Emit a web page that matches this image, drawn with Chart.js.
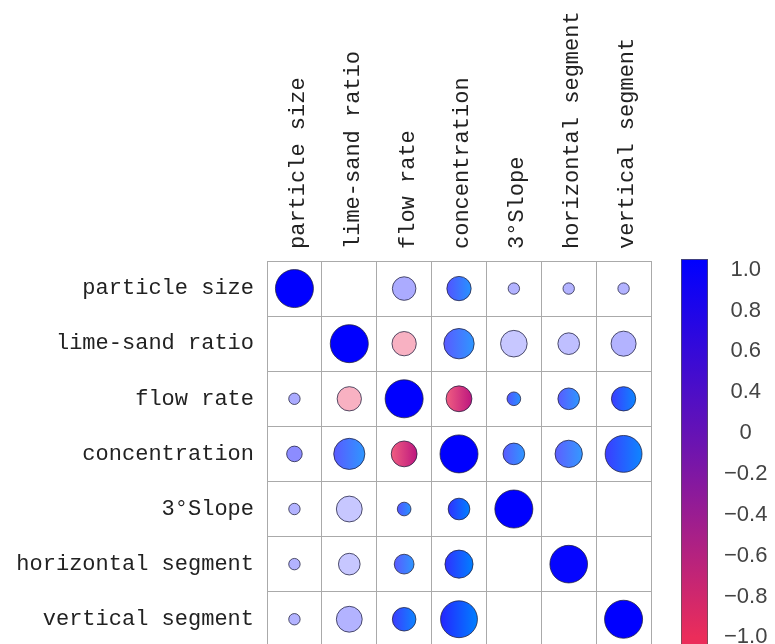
<!DOCTYPE html>
<html>
<head>
<meta charset="utf-8">
<script src="https://cdn.jsdelivr.net/npm/chart.js@4.4.0/dist/chart.umd.min.js"></script>
<style>
  html, body { margin: 0; padding: 0; background: #fff; overflow: hidden; }
  #wrap { position: relative; width: 775px; height: 644px; overflow: hidden; }
  canvas { position: absolute; left: 0; top: 0; }
</style>
</head>
<body>
<div id="wrap">
  <canvas id="myChart" width="775" height="673"></canvas>
  <canvas id="colorBar" width="775" height="687"></canvas>
</div>
<script>
// variable names (rows top->bottom, columns left->right)
const varNames = ["particle size", "lime-sand ratio", "flow rate", "concentration",
  "3\u00b0Slope", "horizontal segment", "vertical segment"];

// signed correlation (null = empty cell)
const corr = [
  [1.00, null, 0.33, 0.75, 0.30, 0.30, 0.30],
  [null, 1.00, -0.37, 0.72, 0.22, 0.25, 0.30],
  [0.33, -0.37, 1.00, -0.85, 0.75, 0.72, 0.85],
  [0.45, 0.72, -0.85, 1.00, 0.72, 0.70, 0.85],
  [0.30, 0.22, 0.75, 0.90, 1.00, null, null],
  [0.30, 0.22, 0.72, 0.90, null, 0.98, null],
  [0.30, 0.30, 0.85, 0.95, null, null, 1.00]
];

// circle size (relative, 1 = diagonal)
const strength = [
  [1.00, null, 0.62, 0.64, 0.30, 0.30, 0.30],
  [null, 1.00, 0.64, 0.80, 0.70, 0.57, 0.66],
  [0.30, 0.64, 1.00, 0.68, 0.36, 0.57, 0.64],
  [0.41, 0.82, 0.68, 1.00, 0.57, 0.72, 0.97],
  [0.30, 0.68, 0.36, 0.57, 1.00, null, null],
  [0.30, 0.57, 0.52, 0.74, null, 0.99, null],
  [0.30, 0.68, 0.62, 0.97, null, null, 1.00]
];

// colour bar labels, top -> bottom
const cbLabels = ["1.0", "0.8", "0.6", "0.4", "0", "\u22120.2", "\u22120.4", "\u22120.6", "\u22120.8", "\u22121.0"];

const points = [];
for (let i = 0; i < varNames.length; i++) {
  for (let j = 0; j < varNames.length; j++) {
    if (corr[i][j] === null) continue;
    points.push({ x: varNames[j], y: varNames[i], r: strength[i][j] * 19, v: corr[i][j], col: j });
  }
}

function mix(c, a) {
  return "rgb(" + c.map(function (k) { return Math.round(255 + (k - 255) * a); }).join(",") + ")";
}

function bubbleColor(context) {
  const raw = context.raw;
  if (!raw || raw.v === undefined) return "#0000ff";
  const v = raw.v;
  const a = Math.abs(v);
  const base = v >= 0 ? [0, 0, 255] : [235, 45, 90];
  const deep = v >= 0 ? [0, 128, 255] : [185, 10, 120];
  if (a <= 0.5 || a >= 0.97) return mix(base, a);
  const chart = context.chart;
  const xs = chart.scales && chart.scales.x;
  if (!xs) return mix(base, a);
  const x = xs.getPixelForValue(raw.col);
  const r = raw.r;
  if (!isFinite(x)) return mix(base, a);
  const g = chart.ctx.createLinearGradient(x - r, 0, x + r, 0);
  g.addColorStop(0, mix(base, a * 0.9));
  g.addColorStop(1, mix(deep, Math.min(1, a + 0.1)));
  return g;
}

const labelFont = { family: "'Liberation Mono', monospace", size: 22 };

new Chart(document.getElementById("myChart"), {
  type: "bubble",
  data: {
    datasets: [{
      data: points,
      backgroundColor: bubbleColor,
      borderColor: "rgba(30,30,60,0.75)",
      borderWidth: 1,
    }],
  },
  options: {
    responsive: false,
    animation: false,
    layout: { padding: { left: 0, top: 0, right: 124, bottom: 14 } },
    plugins: { legend: { display: false }, tooltip: { enabled: false } },
    scales: {
      x: {
        type: "category",
        labels: varNames,
        position: "top",
        offset: true,
        grid: { color: "#aaa", offset: true, drawTicks: false },
        border: { color: "#aaa" },
        ticks: {
          autoSkip: false, minRotation: 90, maxRotation: 90,
          padding: 12, labelOffset: 30, color: "#222", font: labelFont,
        },
        afterFit: function (scale) { scale.height = 261; },
      },
      y: {
        type: "category",
        labels: varNames,
        offset: true,
        grid: { color: "#aaa", offset: true, drawTicks: false },
        border: { color: "#aaa" },
        ticks: { autoSkip: false, padding: 13, color: "#222", font: labelFont },
        afterFit: function (scale) { scale.width = 267; },
      },
    },
  },
});

// colour bar
new Chart(document.getElementById("colorBar"), {
  type: "bar",
  data: {
    labels: ["r"],
    datasets: [{
      data: [[-0.5, 9.26]],
      barPercentage: 1,
      categoryPercentage: 1,
      borderWidth: 1,
      borderColor: "#555",
      borderSkipped: false,
      backgroundColor: function (context) {
        const chart = context.chart;
        if (!chart.chartArea || !chart.scales.y) return "#6e14af";
        const ys = chart.scales.y;
        const top = ys.getPixelForValue(9.26);
        const bottom = ys.getPixelForValue(0);
        if (!isFinite(top) || !isFinite(bottom)) return "#6e14af";
        const g = chart.ctx.createLinearGradient(0, top, 0, bottom);
        g.addColorStop(0, "rgb(0,0,255)");
        g.addColorStop(0.5, "rgb(110,20,175)");
        g.addColorStop(1, "rgb(235,45,90)");
        return g;
      },
    }],
  },
  options: {
    responsive: false,
    animation: false,
    layout: { padding: { left: 681, top: 259, right: 0, bottom: 0 } },
    plugins: { legend: { display: false }, tooltip: { enabled: false } },
    scales: {
      x: { display: false },
      y: {
        position: "right",
        min: -0.5,
        max: 9.26,
        grid: { display: false, drawTicks: false },
        border: { display: false },
        afterBuildTicks: function (scale) {
          scale.ticks = cbLabels.map(function (l, k) { return { value: 9 - k }; });
        },
        ticks: {
          padding: 16,
          crossAlign: "center",
          color: "#444",
          font: { family: "'Liberation Sans', sans-serif", size: 22 },
          callback: function (value) { return cbLabels[9 - value]; },
        },
        afterFit: function (scale) { scale.width = 67; },
      },
    },
  },
});
</script>
</body>
</html>
